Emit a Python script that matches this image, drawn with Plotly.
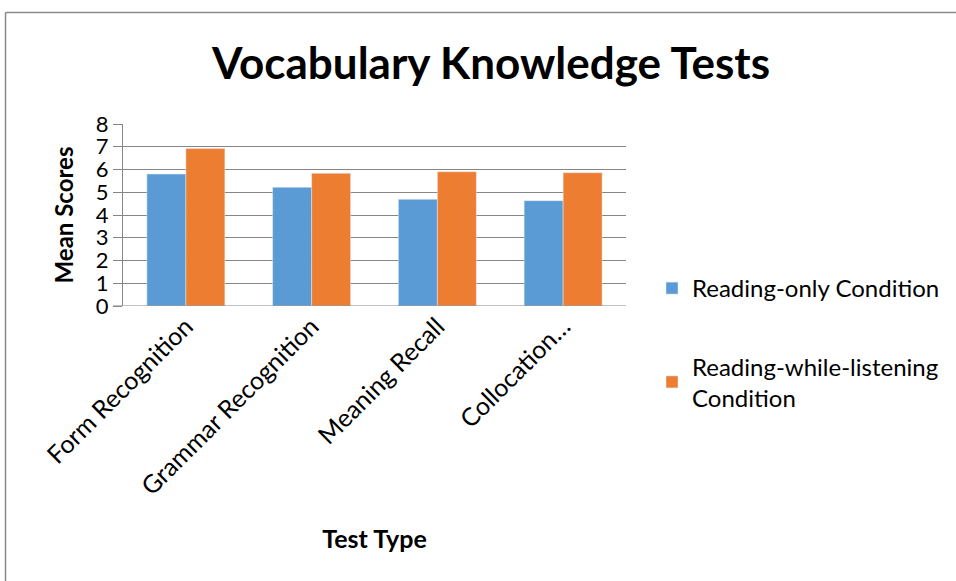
import plotly.graph_objects as go

# data
tests = ["Form Recognition", "Grammar Recognition", "Meaning Recall", "Collocation…"]
reading_only = [5.8, 5.22, 4.69, 4.63]
reading_listening = [6.92, 5.83, 5.9, 5.86]
y_ticks = [0, 1, 2, 3, 4, 5, 6, 7, 8]

FONT = "Lato"
W, H = 956, 581
L, R, T, B = 123, 330, 124, 275   # plot area margins in px
pw, ph = W - L - R, H - T - B


def px_x(x):
    return (x - L) / pw


def px_y(y):
    return (H - B - y) / ph


fig = go.Figure()
fig.add_trace(go.Bar(x=tests, y=reading_only, name="Reading-only Condition",
                     marker_color="#5B9BD5", legendgroup="a"))
fig.add_trace(go.Bar(x=tests, y=reading_listening,
                     name="Reading-while-listening<br>Condition",
                     marker_color="#ED7D31", legendgroup="b"))

fig.update_layout(
    width=W, height=H,
    margin=dict(l=L, r=R, t=T, b=B, autoexpand=False),
    paper_bgcolor="white", plot_bgcolor="white",
    font=dict(family=FONT, color="black"),
    barmode="group", bargap=0.38, bargroupgap=0,
    title=dict(text="<b>Vocabulary Knowledge Tests</b>", x=px_x(491), xref="paper",
               xanchor="center", y=1 - 64 / H, yanchor="middle",
               font=dict(size=44, family=FONT, color="black")),
    legend=dict(x=px_x(652), y=px_y(266), xanchor="left", yanchor="top",
                font=dict(size=24, family=FONT), tracegroupgap=44,
                itemwidth=30, bgcolor="rgba(0,0,0,0)"),
    showlegend=True,
)

fig.update_yaxes(range=[0, 8], tickvals=y_ticks, showgrid=True, gridcolor="#868686",
                 gridwidth=1, showline=True, linecolor="#868686", linewidth=1,
                 ticks="outside", ticklen=9, tickcolor="#868686",
                 tickfont=dict(size=22, family=FONT), zeroline=False,
                 title=dict(text="<b>Mean Scores</b>", font=dict(size=24, family=FONT),
                            standoff=15))
fig.update_xaxes(tickangle=-45, tickfont=dict(size=25, family=FONT), showline=False,
                 ticks="", title=dict(text="<b>Test Type</b>", font=dict(size=25, family=FONT),
                                      standoff=31))

# baseline (0 gridline)
fig.add_shape(type="line", xref="paper", yref="y", x0=px_x(113), x1=1, y0=0, y1=0,
              line=dict(color="#868686", width=1))

# chart frame (left and top edges visible)
fig.add_shape(type="line", xref="paper", yref="paper", x0=px_x(5.5), x1=px_x(5.5),
              y0=px_y(12.5), y1=px_y(600), line=dict(color="#8a8a8a", width=1.5))
fig.add_shape(type="line", xref="paper", yref="paper", x0=px_x(5.5), x1=px_x(970),
              y0=px_y(12.5), y1=px_y(12.5), line=dict(color="#8a8a8a", width=1.5))

fig.write_html("out.html", config={"displayModeBar": False},
               post_script="document.body.style.margin='0';")
